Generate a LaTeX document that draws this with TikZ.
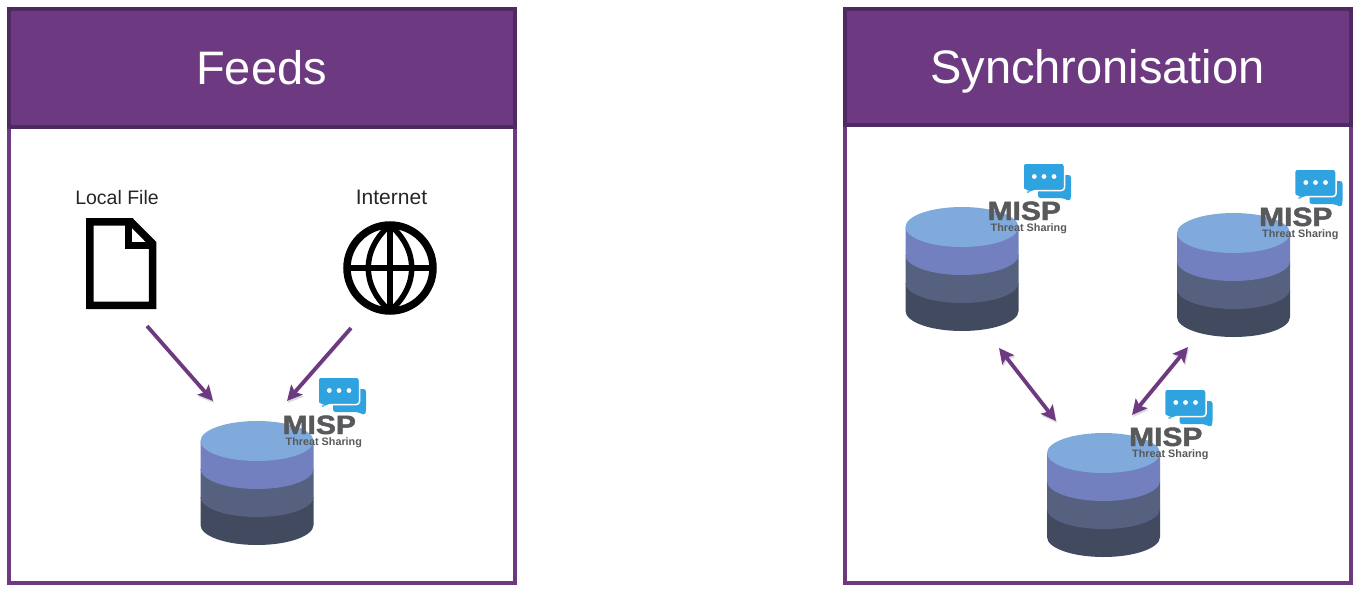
\documentclass[tikz,border=0pt]{standalone}
\usepackage{fontspec}
\usepackage{graphicx}
\setmainfont{Liberation Sans}
\newfontface\mispfont[FakeBold=1.6]{Liberation Sans Bold}
\usetikzlibrary{arrows.meta}
\definecolor{headfill}{HTML}{6D3A82}
\definecolor{headline}{HTML}{4F2A62}
\definecolor{dbtop}{HTML}{7FAADB}
\definecolor{dbtwo}{HTML}{7380BF}
\definecolor{dbthree}{HTML}{56617F}
\definecolor{dbfour}{HTML}{424A60}
\definecolor{chatblue}{HTML}{2FA3DF}
\definecolor{mispgrey}{HTML}{58595B}
\tikzset{
	framebox/.style={draw=headfill, line width=4pt, fill=white, minimum width=506pt, minimum height=574pt, inner sep=0pt},
	headbox/.style={draw=headline, line width=4pt, fill=headfill, text=white, minimum width=506pt, inner sep=0pt, text depth=0pt, font=\fontsize{47}{50}\selectfont},
	caption/.style={inner sep=0pt, text=black!85, font=\fontsize{19.5}{22}\selectfont},
	flow/.style={draw=headfill, line width=3.8pt, preaction={draw=black!14, transform canvas={shift={(1pt,-2pt)}}}},
	feedarrow/.style={flow, -{Stealth[length=15pt,width=15pt,inset=3pt]}},
	syncarrow/.style={flow, {Stealth[length=15pt,width=15pt,inset=3pt]}-{Stealth[length=15pt,width=15pt,inset=3pt]}},
	icon/.style={draw=black, line width=7.5pt, miter limit=10},
	mispdb/.pic={
		\foreach \dy/\col in {84/dbfour,56/dbthree,28/dbtwo}
			\fill [\col] (-56.5,\dy-28) rectangle (56.5,\dy) (0,\dy) ellipse [x radius=56.5pt, y radius=20pt];
		\fill [dbtop] (0,0) ellipse [x radius=56.5pt, y radius=20pt];
		\fill [chatblue, rounded corners=2.5pt] (76,-52) -- (109,-52) -- (109,-30) -- (108,-26) -- (100,-29) -- (76,-29) -- cycle;
		\draw [white, fill=chatblue, line width=1.5pt, rounded corners=3pt] (61,-64) -- (102.5,-64) -- (102.5,-36.5) -- (72,-36.5) -- (64,-32) -- (64,-36.5) -- (61,-36.5) -- cycle;
		\foreach \dx in {72.3,82,92}
			\fill [white] (\dx,-50.5) circle [radius=2.4pt];
		\node (-misp) [inner sep=0pt, anchor=base west, text=mispgrey, font=\mispfont\fontsize{26.5}{28}\selectfont] at (25.5,-7) {\scalebox{1.13}[1]{MISP}};
		\node (-sharing) [inner sep=0pt, anchor=base west, text=mispgrey, font=\bfseries\fontsize{10.8}{12}\selectfont] at (28.5,4) {Threat Sharing};
	}
}

\begin{document}
\begin{tikzpicture}[x=1pt, y=-1pt]
	\useasboundingbox (0,0) rectangle (1360,592);
	\node (feedsframe) [framebox] at (261.5,296) {};
	\node (feedshead) [headbox, minimum height=118pt] at (261.5,67.5) {Feeds};
	\node (syncframe) [framebox] at (1097.5,296) {};
	\node (synchead) [headbox, minimum height=116pt] at (1097.5,66.5) {Synchronisation};
	\node (localfile) [caption] at (117,197.5) {Local File};
	\node (internet) [caption, font=\fontsize{21}{22}\selectfont] at (391.5,197.5) {Internet};
	% file icon
	\draw [icon] (89.8,221.8) -- (131,221.8) -- (152.5,243.5) -- (152.5,305.3) -- (89.8,305.3) -- cycle;
	\draw [icon] (128.5,219) -- (128.5,245.5) -- (155,245.5);
	% globe icon
	\draw [icon] (390,268) circle [radius=43pt];
	\draw [icon, line width=6pt] (390,225) -- (390,311);
	\draw [icon, line width=6pt] (347,268) -- (433,268);
	\draw [icon, line width=5.5pt] (390,225) .. controls (361,250) and (361,286) .. (390,311);
	\draw [icon, line width=5.5pt] (390,225) .. controls (419,250) and (419,286) .. (390,311);
	\pic (db0) at (257,441) {mispdb};
	\pic (db1) at (962,227) {mispdb};
	\pic (db2) at (1233.5,233) {mispdb};
	\pic (db3) at (1103.5,453) {mispdb};
	\coordinate (f0) at (147,326);
	\coordinate (f1) at (213,401);
	\coordinate (i0) at (351,328);
	\coordinate (i1) at (287,401);
	\coordinate (s0) at (999,348);
	\coordinate (s1) at (1056,421);
	\coordinate (s2) at (1188,347);
	\coordinate (s3) at (1132,415);
	\draw (f0) edge [feedarrow] (f1);
	\draw (i0) edge [feedarrow] (i1);
	\draw (s0) edge [syncarrow] (s1);
	\draw (s2) edge [syncarrow] (s3);
\end{tikzpicture}
\end{document}
